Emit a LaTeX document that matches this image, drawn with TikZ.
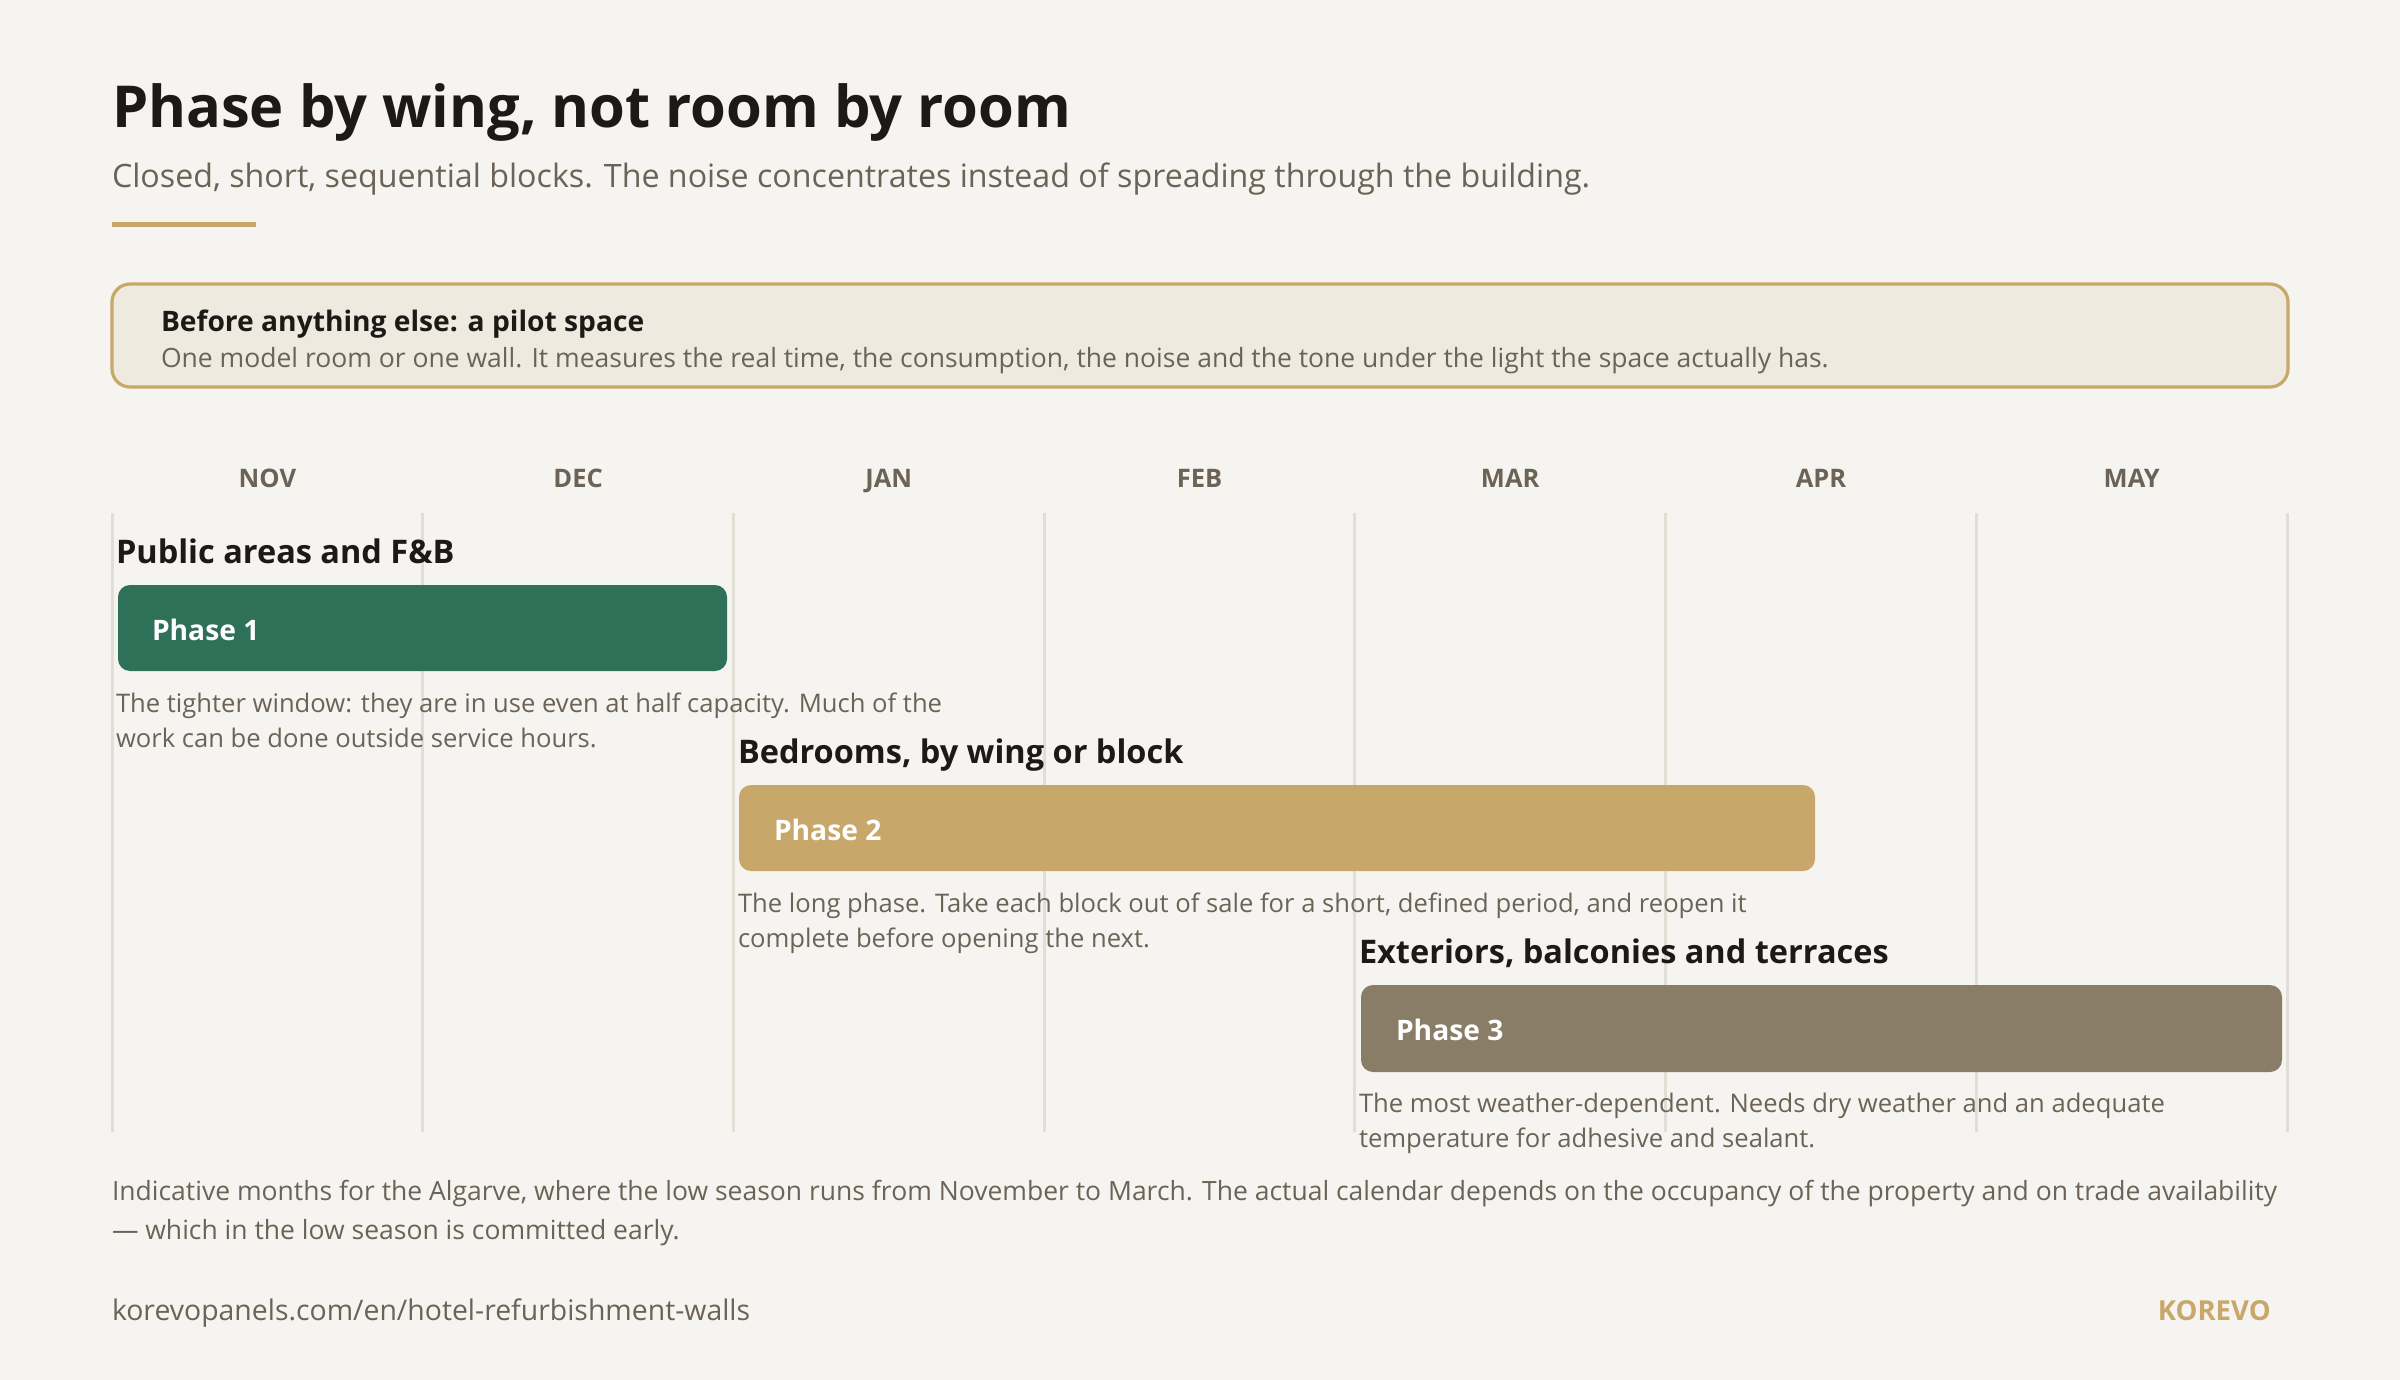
\documentclass[tikz,border=0pt]{standalone}
\usepackage{fontspec}
\setmainfont{Open Sans}
\definecolor{bg}{HTML}{F6F4F0}
\definecolor{ink}{HTML}{1C1A17}
\definecolor{muted}{HTML}{6B6356}
\definecolor{gold}{HTML}{C8A76A}
\definecolor{green}{HTML}{2E7158}
\definecolor{brown}{HTML}{8A7D67}
\definecolor{pilotfill}{HTML}{EFEAE0}
\definecolor{gridc}{HTML}{E2DED6}
\newcommand{\px}[1]{\fontsize{#1\dimexpr 0.5pt\relax}{#1\dimexpr 0.6pt\relax}\selectfont}
\tikzset{
  txt/.style={anchor=base west, inner sep=0pt, outer sep=0pt},
  title/.style={txt, text=ink, font=\bfseries\px{57.8}},
  sub/.style={txt, text=muted, font=\px{32.2}},
  pilothead/.style={txt, text=ink, font=\bfseries\px{28.2}},
  pilotbody/.style={txt, text=muted, font=\px{26.5}},
  month/.style={anchor=base, inner sep=0pt, text=muted, font=\bfseries\px{25.5}},
  phasehead/.style={txt, text=ink, font=\bfseries\px{32.5}},
  bar/.style={rounded corners=6pt, draw=none},
  barlabel/.style={txt, text=white, font=\bfseries\px{28.2}},
  desc/.style={txt, text=muted, font=\px{25.6}},
  foot/.style={txt, text=muted, font=\px{26.5}},
  gridline/.style={draw=gridc, line width=1.5pt},
}
\begin{document}
\begin{tikzpicture}[x=0.5pt,y=-0.5pt]
\fill[bg] (0,0) rectangle (2400,1380);
\useasboundingbox (0,0) rectangle (2400,1380);

\node[title] (t) at (112,128) {Phase by wing, not room by room};
\node[sub] (s) at (112,188) {Closed, short, sequential blocks. The noise concentrates instead of spreading through the building.};
\fill[gold] (112,222) rectangle (256,227);

\draw[draw=gold, fill=pilotfill, line width=1.6pt, rounded corners=9pt] (112,284) rectangle (2288,387);
\node[pilothead] (ph) at (161,332) {Before anything else: a pilot space};
\node[pilotbody] (pb) at (161,367) {One model room or one wall. It measures the real time, the consumption, the noise and the tone under the light the space actually has.};

% grid
\foreach \x in {112,422.7,733.4,1044.1,1354.9,1665.6,1976.3,2287}
  \draw[gridline] (\x,513) -- (\x,1132);
\node[month] (m1) at (267.4,487) {NOV};
\node[month] (m2) at (578.1,487) {DEC};
\node[month] (m3) at (888.8,487) {JAN};
\node[month] (m4) at (1199.5,487) {FEB};
\node[month] (m5) at (1510.2,487) {MAR};
\node[month] (m6) at (1821,487) {APR};
\node[month] (m7) at (2131.7,487) {MAY};

% phase 1
\node[phasehead] (h1) at (116,563) {Public areas and F\&B};
\fill[green, bar] (118,585) rectangle (727,671);
\node[barlabel] (l1) at (152,640) {Phase 1};
\node[desc] (d1a) at (116,712) {The tighter window: they are in use even at half capacity. Much of the};
\node[desc] (d1b) at (116,747) {work can be done outside service hours.};

% phase 2
\node[phasehead] (h2) at (738,763) {Bedrooms, by wing or block};
\fill[gold, bar] (739,785) rectangle (1815,871);
\node[barlabel] (l2) at (774,840) {Phase 2};
\node[desc] (d2a) at (738,912) {The long phase. Take each block out of sale for a short, defined period, and reopen it};
\node[desc] (d2b) at (738,947) {complete before opening the next.};

% phase 3
\node[phasehead] (h3) at (1359,963) {Exteriors, balconies and terraces};
\fill[brown, bar] (1361,985) rectangle (2282,1072);
\node[barlabel] (l3) at (1396,1040) {Phase 3};
\node[desc] (d3a) at (1359,1112) {The most weather-dependent. Needs dry weather and an adequate};
\node[desc] (d3b) at (1359,1147) {temperature for adhesive and sealant.};

% footer
\node[foot] (f1) at (112,1200) {Indicative months for the Algarve, where the low season runs from November to March. The actual calendar depends on the occupancy of the property and on trade availability};
\node[foot] (f2) at (112,1239) {— which in the low season is committed early.};
\node[txt, text=muted, font=\px{28.4}] (url) at (112,1320) {korevopanels.com/en/hotel-refurbishment-walls};
\node[anchor=base east, inner sep=0pt, text=gold, font=\bfseries\px{27.5}] (brand) at (2271,1320) {KOREVO};
\end{tikzpicture}
\end{document}
